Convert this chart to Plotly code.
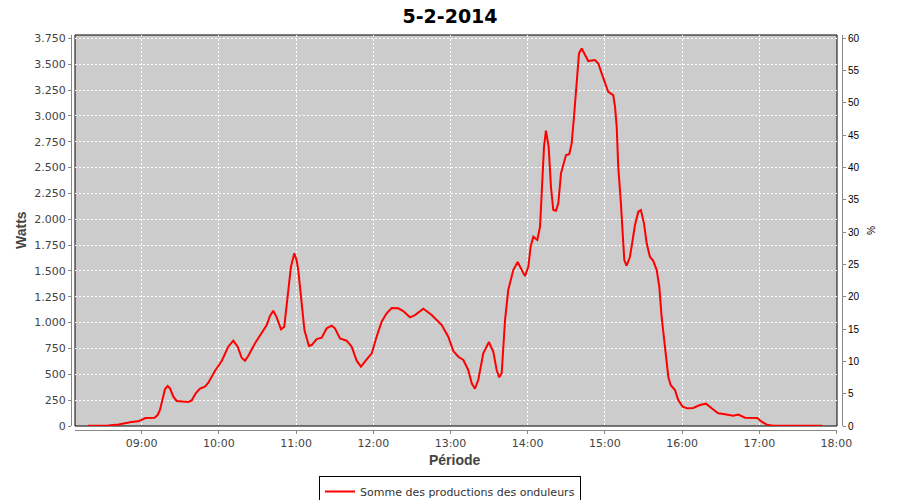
import plotly.graph_objects as go

DATE = "2014-02-05"
title_text = "5-2-2014"
series_name = "Somme des productions des onduleurs"

times = [
    "08:18:30", "08:34:00", "08:42:00", "08:47:00", "08:52:00", "08:57:24", "09:00:00", "09:03:00", "09:10:00", "09:12:24",
    "09:14:12", "09:16:00", "09:18:06", "09:20:12", "09:22:00", "09:24:36", "09:27:12", "09:36:12", "09:38:54", "09:42:00",
    "09:45:18", "09:49:12", "09:51:48", "09:57:00", "10:02:12", "10:07:18", "10:11:12", "10:14:36", "10:17:42", "10:20:18",
    "10:22:48", "10:28:06", "10:33:18", "10:37:12", "10:39:42", "10:42:18", "10:44:54", "10:48:18", "10:50:48", "10:53:30",
    "10:56:00", "10:58:36", "11:00:30", "11:01:42", "11:03:48", "11:06:30", "11:10:00", "11:12:06", "11:16:00", "11:19:54",
    "11:23:48", "11:27:42", "11:30:12", "11:34:06", "11:39:18", "11:43:12", "11:47:06", "11:50:24", "11:54:54", "11:58:48",
    "12:02:36", "12:06:30", "12:10:24", "12:14:18", "12:19:24", "12:23:18", "12:28:30", "12:32:24", "12:38:54", "12:45:24",
    "12:53:12", "12:58:18", "13:02:12", "13:06:06", "13:10:00", "13:13:48", "13:16:30", "13:19:00", "13:21:36", "13:25:30",
    "13:29:54", "13:33:18", "13:35:54", "13:37:54", "13:39:48", "13:42:24", "13:44:54", "13:48:48", "13:52:12", "13:55:18",
    "13:57:54", "14:00:30", "14:02:18", "14:04:24", "14:07:30", "14:09:36", "14:10:54", "14:12:42", "14:14:12", "14:16:18",
    "14:18:06", "14:19:54", "14:22:00", "14:23:48", "14:25:54", "14:27:42", "14:29:48", "14:32:18", "14:34:12", "14:36:00",
    "14:38:06", "14:39:54", "14:42:00", "14:44:30", "14:47:06", "14:52:18", "14:54:54", "14:57:30", "15:00:06", "15:02:36",
    "15:06:30", "15:07:54", "15:09:12", "15:10:24", "15:12:18", "15:13:48", "15:15:06", "15:16:54", "15:19:30", "15:21:36",
    "15:23:24", "15:26:00", "15:28:00", "15:30:24", "15:32:30", "15:35:00", "15:37:36", "15:40:18", "15:42:18", "15:44:06",
    "15:45:54", "15:47:30", "15:49:18", "15:51:06", "15:54:30", "15:57:00", "16:00:30", "16:04:00", "16:08:42", "16:13:54",
    "16:18:36", "16:23:00", "16:28:06", "16:33:18", "16:39:48", "16:43:42", "16:48:54", "16:58:24", "17:01:54", "17:05:48",
    "17:10:54", "17:49:00",
]

watts = [
    3, 5, 15, 29, 39, 45, 58, 77, 80, 106,
    155, 250, 355, 387, 364, 284, 242, 232, 248, 316,
    361, 380, 419, 535, 629, 767, 825, 767, 660, 632,
    677, 800, 896, 977, 1064, 1115, 1051, 935, 960, 1250,
    1540, 1670, 1600, 1508, 1250, 928, 774, 783, 841, 854,
    945, 970, 945, 848, 825, 767, 632, 574, 645, 703,
    864, 1009, 1090, 1141, 1138, 1112, 1051, 1073, 1134, 1073,
    977, 864, 725, 670, 638, 542, 413, 361, 445, 703,
    812, 718, 542, 471, 510, 1025, 1315, 1508, 1586, 1508,
    1450, 1540, 1734, 1831, 1799, 1927, 2250, 2702, 2856, 2702,
    2314, 2089, 2082, 2153, 2444, 2540, 2621, 2630, 2734, 2991,
    3346, 3604, 3652, 3588, 3530, 3540, 3507, 3411, 3314, 3233,
    3201, 3088, 2894, 2507, 2186, 1863, 1605, 1550, 1637, 1799,
    1944, 2073, 2089, 1960, 1767, 1637, 1598, 1508, 1347, 1057,
    864, 670, 477, 397, 348, 251, 187, 171, 174, 203,
    216, 171, 123, 113, 100, 110, 80, 77, 42, 13,
    3, 3,
]

x_range = ["08:08:10", "18:00:25"]
watts_max = 3782
pct_max = 60.5
hour_ticks_start = "09:00:00"

xs = [f"{DATE} {t}" for t in times]

fig = go.Figure()
fig.add_trace(go.Scatter(
    x=xs, y=watts, mode="lines", name=series_name,
    line=dict(color="#FF0000", width=2),
))
fig.add_trace(go.Scatter(
    x=[xs[0]], y=[0], yaxis="y2", mode="markers",
    marker=dict(opacity=0), showlegend=False, hoverinfo="skip",
))

W, H = 900, 500
ML, MR, MT, MB = 70, 57, 34, 69
PW = W - ML - MR
PH = H - MT - MB
def px_x(p):
    return (p - ML) / PW
def px_y(p):
    return (H - MB - p) / PH

tick_font = dict(family="DejaVu Sans", size=11, color="#444444")
grid = dict(showgrid=True, gridcolor="#FFFFFF", gridwidth=1, griddash="2px,2px")

fig.update_layout(
    width=W, height=H,
    margin=dict(l=ML, r=MR, t=MT, b=MB, autoexpand=False),
    paper_bgcolor="#FFFFFF", plot_bgcolor="#CCCCCC",
    separators=",.",
    showlegend=True,
    legend=dict(
        x=px_x(450), xanchor="center", y=px_y(476), yanchor="top",
        orientation="h", bordercolor="#000000", borderwidth=1,
        font=dict(family="DejaVu Sans", size=11, color="#333333"),
        itemwidth=30, tracegroupgap=0,
    ),
    title=dict(
        text="<b>" + title_text + "</b>", x=0.5, xanchor="center",
        y=1 - 16 / H, yanchor="middle", yref="container", xref="container",
        font=dict(family="DejaVu Sans", size=19, color="#000000"),
    ),
    xaxis=dict(
        type="date", range=[f"{DATE} {x_range[0]}", f"{DATE} {x_range[1]}"],
        domain=[px_x(75), px_x(837)],
        anchor="free", position=px_y(430),
        tickformat="%H:%M", tick0=f"{DATE} {hour_ticks_start}", dtick=3600000,
        ticks="outside", ticklen=3, tickcolor="#888888",
        showline=True, linecolor="#888888", linewidth=1,
        tickfont=tick_font, zeroline=False, automargin=False, **grid,
    ),
    yaxis=dict(
        range=[0, watts_max], domain=[px_y(426), px_y(35)],
        anchor="free", position=px_x(71),
        tick0=0, dtick=250, tickformat=",",
        ticks="outside", ticklen=3, tickcolor="#888888",
        showline=True, linecolor="#888888", linewidth=1,
        tickfont=tick_font, zeroline=False, automargin=False, **grid,
    ),
    yaxis2=dict(
        range=[0, pct_max], overlaying="y", side="right",
        anchor="free", position=px_x(842),
        tick0=0, dtick=5, ticks="outside", ticklen=3, tickcolor="#888888",
        showline=True, linecolor="#888888", linewidth=1,
        tickfont=dict(family="Liberation Sans", size=10, color="#000000"),
        showgrid=False, zeroline=False, automargin=False,
    ),
    shapes=[dict(
        type="rect", xref="x domain", yref="y domain", x0=0, x1=1, y0=0, y1=1,
        line=dict(color="#000000", width=1), fillcolor="rgba(0,0,0,0)", layer="below",
    )],
    annotations=[
        dict(text="<b>Watts</b>", xref="paper", yref="paper", x=px_x(21), y=px_y(230),
             textangle=-90, showarrow=False, xanchor="center", yanchor="middle",
             font=dict(family="Liberation Sans", size=14, color="#444444")),
        dict(text="<b>Période</b>", xref="paper", yref="paper", x=px_x(455), y=px_y(460),
             showarrow=False, xanchor="center", yanchor="middle",
             font=dict(family="Liberation Sans", size=14, color="#444444")),
        dict(text="%", xref="paper", yref="paper", x=px_x(871), y=px_y(230),
             textangle=90, showarrow=False, xanchor="center", yanchor="middle",
             font=dict(family="Liberation Sans", size=10, color="#000000")),
    ],
)

# remove the browser's default 8px body margin so the 900x500 figure fills the window
fig.write_html(
    "out.html",
    config={"displayModeBar": False},
    post_script="document.body.style.margin='0';",
)
